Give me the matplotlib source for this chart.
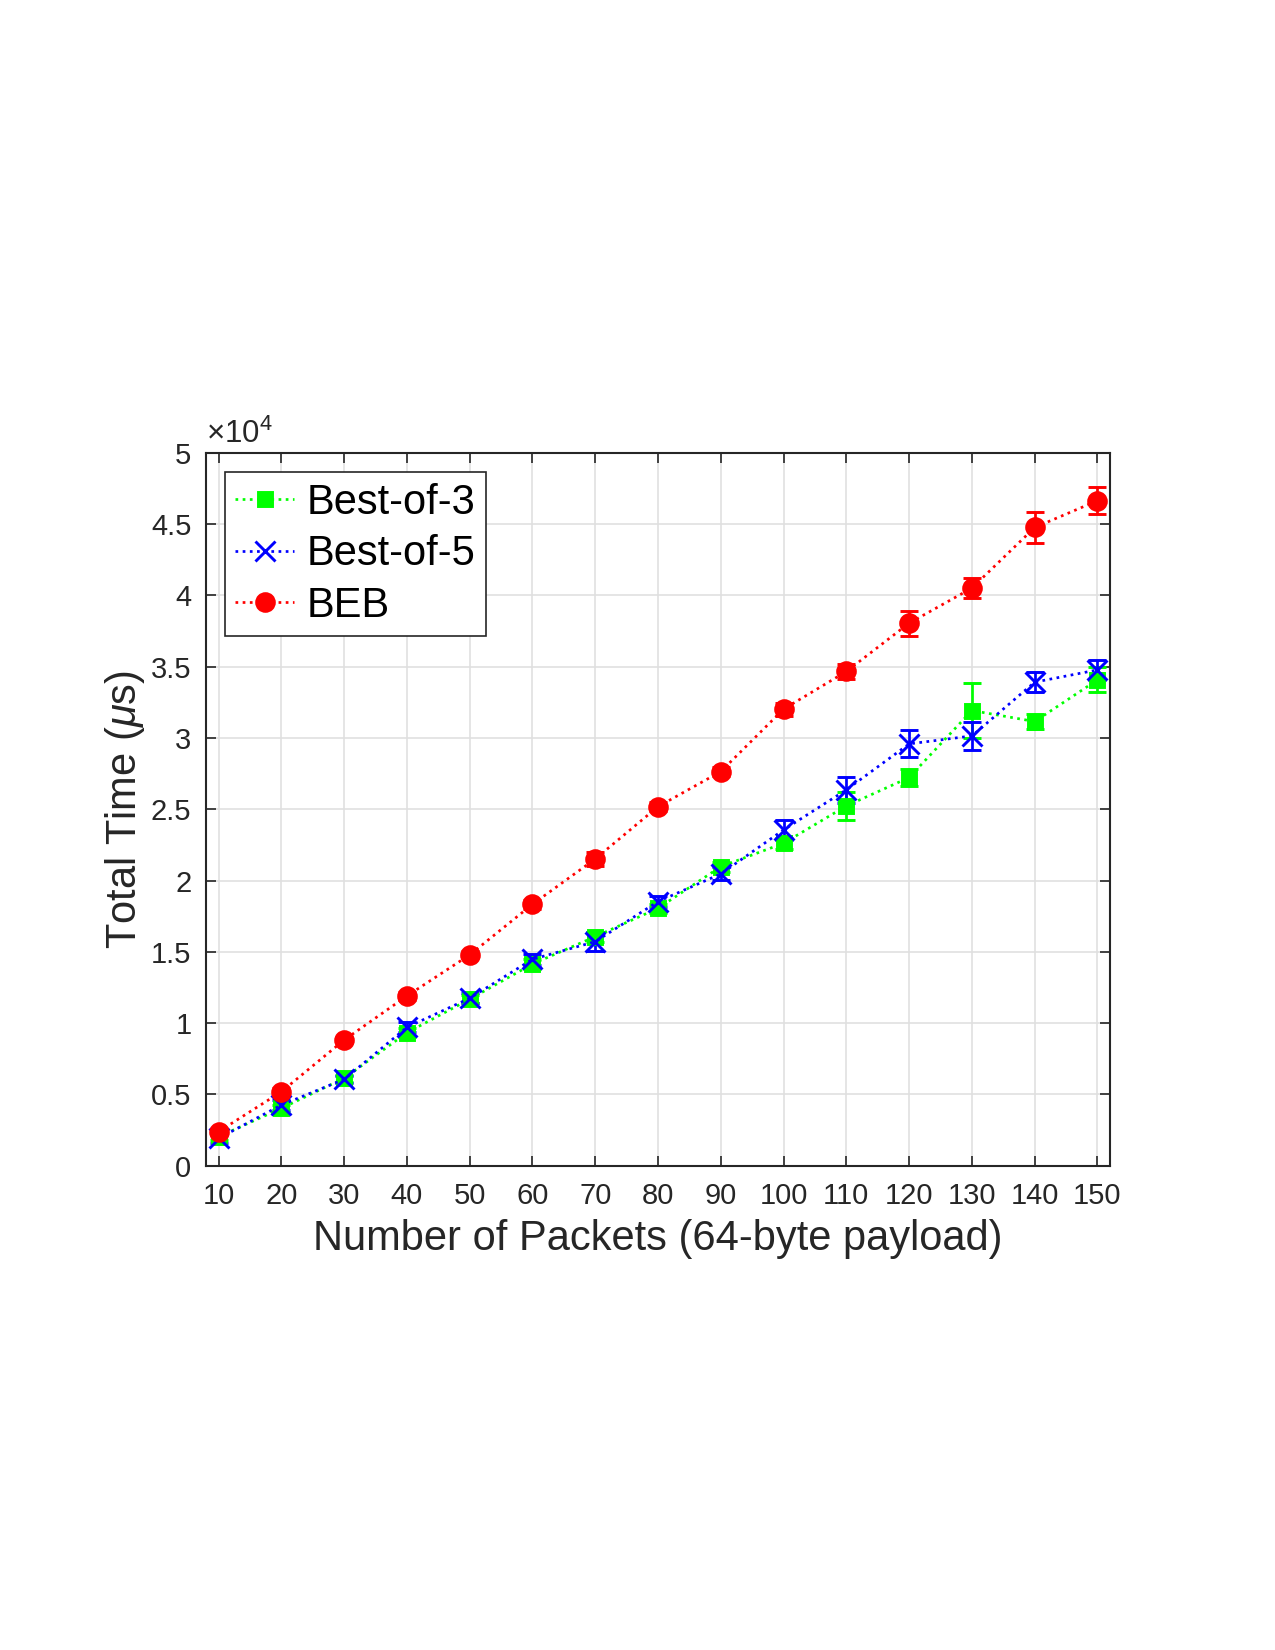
import matplotlib
matplotlib.use('Agg')
import matplotlib.pyplot as plt
from matplotlib.lines import Line2D
from matplotlib.ticker import FuncFormatter

plt.rcParams['font.family'] = ['Liberation Sans', 'DejaVu Sans']
plt.rcParams['mathtext.fontset'] = 'custom'
plt.rcParams['mathtext.it'] = 'Liberation Sans:italic'
plt.rcParams['mathtext.rm'] = 'Liberation Sans'

packets = [10, 20, 30, 40, 50, 60, 70, 80, 90, 100, 110, 120, 130, 140, 150]

best3 = [2030, 4030, 6130, 9330, 11680, 14150, 16070, 18060, 20980, 22620,
         25240, 27230, 31930, 31160, 34080]
best3_err = [250, 250, 250, 300, 300, 350, 350, 300, 350, 400,
             970, 585, 1950, 500, 880]

best5 = [1920, 4260, 6060, 9710, 11750, 14480, 15720, 18530, 20470, 23560,
         26370, 29590, 30150, 33920, 34780]
best5_err = [300, 350, 250, 350, 350, 400, 640, 400, 450, 680,
             910, 940, 970, 680, 690]

beb = [2390, 5190, 8820, 11910, 14790, 18340, 21520, 25190, 27650, 32030,
       34670, 38060, 40520, 44770, 46650]
beb_err = [200, 250, 200, 300, 250, 300, 500, 300, 300, 450,
           550, 880, 680, 1110, 940]

series = [
    ('Best-of-3', best3, best3_err, '#00ff00', 's', 6.5),
    ('Best-of-5', best5, best5_err, '#0000ff', 'x', 10),
    ('BEB', beb, beb_err, '#ff0000', 'o', 8.5),
]

fig = plt.figure(figsize=(8.5, 11), dpi=150)
ax = fig.add_axes([0.1616, 0.2935, 0.709, 0.432])

handles = []
for name, vals, err, col, mk, ms in series:
    ax.errorbar(packets, vals, yerr=err, color=col, linestyle=':',
                linewidth=1.3, marker=mk, markersize=ms, markeredgewidth=1.4,
                capsize=4.5, elinewidth=1.3, capthick=1.3, zorder=3)
    handles.append(Line2D([], [], color=col, linestyle=':', linewidth=1.3,
                          marker=mk, markersize=ms, markeredgewidth=1.4,
                          label=name))

ax.set_xlim(8, 152)
ax.set_ylim(0, 50000)
ax.set_xticks(packets)
ax.set_yticks(range(0, 50001, 5000))
ax.yaxis.set_major_formatter(FuncFormatter(lambda v, p: f'{v / 1e4:g}'))

axcol = '#262626'
for s in ax.spines.values():
    s.set_color(axcol)
    s.set_linewidth(1.0)
ax.tick_params(direction='in', length=5, width=0.8, colors=axcol,
               labelsize=14, top=True, right=True)
ax.tick_params(axis='x', pad=8)
ax.tick_params(axis='y', pad=7)
ax.grid(True, color='#e0e0e0', linewidth=0.8)
ax.set_axisbelow(True)

ax.text(0.0, 1.004, r'$\times$10$^{4}$', transform=ax.transAxes,
        fontsize=15, color=axcol, ha='left', va='bottom')

ax.set_xlabel('Number of Packets (64-byte payload)', fontsize=20,
              color=axcol, labelpad=4)
ax.set_ylabel(r'Total Time ($\mu$s)', fontsize=20, color=axcol, labelpad=2)

leg = ax.legend(handles=handles, loc='upper left', fontsize=20, frameon=True,
                fancybox=False, edgecolor=axcol, framealpha=1,
                handlelength=1.4, borderpad=0.25, labelspacing=0.28,
                handletextpad=0.3, borderaxespad=0,
                bbox_to_anchor=(0.021, 0.973))
leg.get_frame().set_linewidth(0.8)

fig.savefig('out.png', dpi=150)
